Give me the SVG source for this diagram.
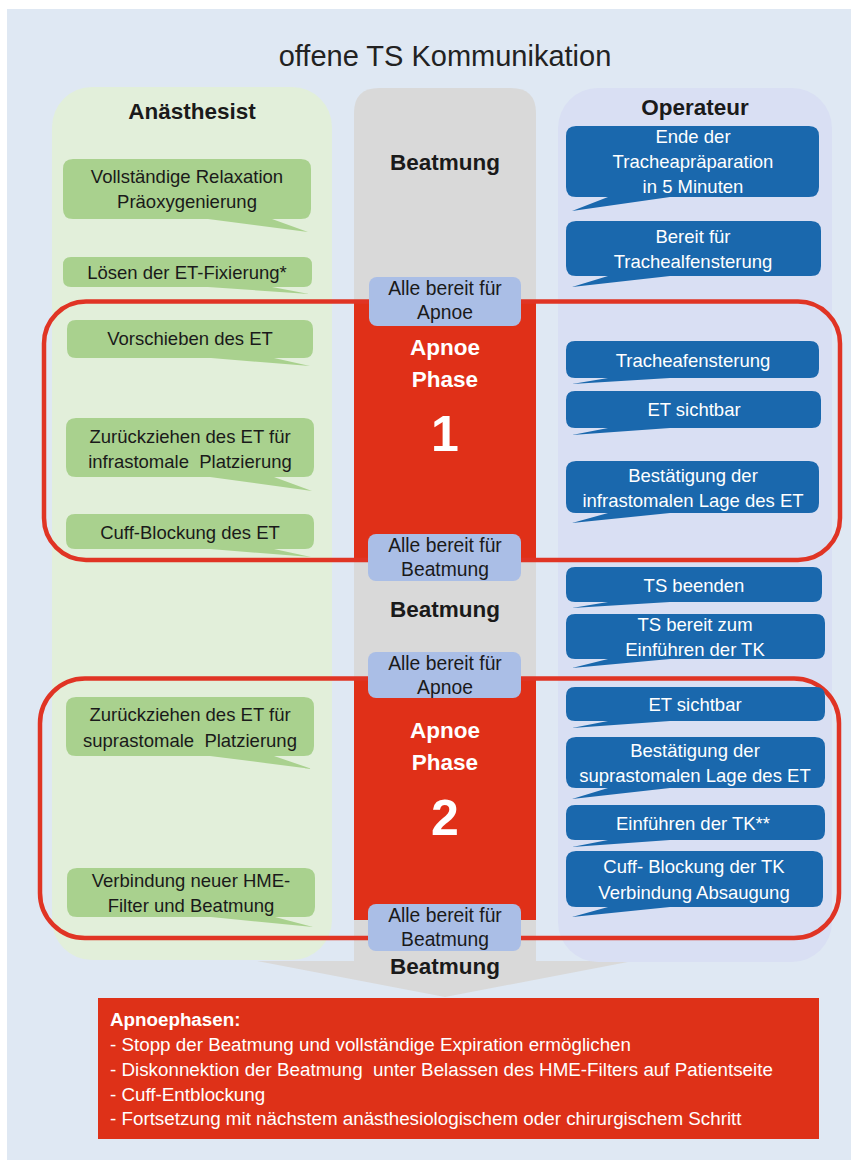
<svg xmlns="http://www.w3.org/2000/svg" width="857" height="1164" viewBox="0 0 857 1164">
<style>
text{font-family:"Liberation Sans",Arial,sans-serif;}
.t{font-size:18.5px;fill:#1a1a1a;text-anchor:middle;}
.ta{font-size:19.3px;fill:#1a1a1a;text-anchor:middle;}
.w{font-size:18.5px;fill:#ffffff;text-anchor:middle;}
.h{font-size:22.5px;font-weight:bold;fill:#1a1a1a;text-anchor:middle;}
.ap{font-size:22.5px;font-weight:bold;fill:#ffffff;text-anchor:middle;}
.num{font-size:50px;font-weight:bold;fill:#ffffff;text-anchor:middle;}
.g{fill:#a9d18e;}
.b{fill:#1a68ad;}
.ab{fill:#aabee6;}
.rl{fill:none;stroke:#e03424;stroke-width:4.5;}
.rf{fill:#e03018;}
.bt{font-size:18.8px;fill:#ffffff;}
</style>
<rect x="7" y="9" width="844" height="1151" fill="#dfe8f3"/>
<text x="445" y="66" style="font-size:29px;fill:#222;text-anchor:middle">offene TS Kommunikation</text>

<g id="col-anaesthesist">
<rect x="52" y="87" width="280" height="873" rx="40" fill="#e2efda"/>
<text class="h" x="192" y="119">Anästhesist</text>
</g>
<g id="connectors">
<polygon points="257,961 633,961 445,997" fill="#d9d9d9"/>
</g>
<g id="col-beatmung">
<path d="M354,962 V113 Q354,88 379,88 H511 Q536,88 536,113 V962 Z" fill="#d9d9d9"/>
<text class="h" x="445" y="170">Beatmung</text>
<text class="h" x="445" y="617">Beatmung</text>
<text class="h" x="445" y="974">Beatmung</text>
</g>
<g id="col-operateur">
<rect x="558" y="88" width="274" height="874" rx="40" fill="#d9dff3"/>
<text class="h" x="695" y="115">Operateur</text>
</g>

<g id="apnoe1">
<rect class="rf" x="354" y="300" width="182" height="261"/>
<text class="ap" x="445" y="355">Apnoe</text>
<text class="ap" x="445" y="387">Phase</text>
<text class="num" x="445" y="451">1</text>
</g>
<g id="apnoe2">
<rect class="rf" x="354" y="677" width="182" height="243"/>
<text class="ap" x="445" y="738">Apnoe</text>
<text class="ap" x="445" y="770">Phase</text>
<text class="num" x="445" y="835">2</text>
</g>
<g id="phase-frames">
<rect class="rl" x="44" y="301.5" width="796" height="258.5" rx="42"/>
<rect class="rl" x="40" y="678.5" width="799" height="259.5" rx="45"/>
</g>

<g id="g1"><path class="g" d="M73,159 H301 Q311,159 311,169 V209 Q311,219 301,219 H272 L308,232 L208,219 H73 Q63,219 63,209 V169 Q63,159 73,159 Z"/>
<text class="t" x="187" y="183">Vollständige Relaxation</text><text class="t" x="187" y="208">Präoxygenierung</text></g>
<g id="g2"><path class="g" d="M71,257 H304 Q312,257 312,265 V279 Q312,287 304,287 H272 L309,294 L208,287 H71 Q63,287 63,279 V265 Q63,257 71,257 Z"/>
<text class="t" x="187" y="279">Lösen der ET-Fixierung*</text></g>
<g id="g3"><path class="g" d="M76,320 H304 Q313,320 313,329 V349 Q313,358 304,358 H274 L310,366 L211,358 H76 Q67,358 67,349 V329 Q67,320 76,320 Z"/>
<text class="t" x="190" y="345">Vorschieben des ET</text></g>
<g id="g4"><path class="g" d="M76,418 H304 Q314,418 314,428 V467 Q314,477 304,477 H274 L312,491 L210,477 H76 Q66,477 66,467 V428 Q66,418 76,418 Z"/>
<text class="t" x="190" y="443">Zurückziehen des ET für</text><text class="t" x="190" y="468" xml:space="preserve">infrastomale  Platzierung</text></g>
<g id="g5"><path class="g" d="M75,514 H305 Q314,514 314,523 V540 Q314,549 305,549 H274 L311,557 L210,549 H75 Q66,549 66,540 V523 Q66,514 75,514 Z"/>
<text class="t" x="190" y="539">Cuff-Blockung des ET</text></g>
<g id="g6"><path class="g" d="M76,697 H304 Q314,697 314,707 V746 Q314,756 304,756 H274 L312,769 L210,756 H76 Q66,756 66,746 V707 Q66,697 76,697 Z"/>
<text class="t" x="190" y="721">Zurückziehen des ET für</text><text class="t" x="190" y="747" xml:space="preserve">suprastomale  Platzierung</text></g>
<g id="g7"><path class="g" d="M77,868 H305 Q315,868 315,878 V907 Q315,917 305,917 H275 L313,927 L211,917 H77 Q67,917 67,907 V878 Q67,868 77,868 Z"/>
<text class="t" x="191" y="887">Verbindung neuer HME-</text><text class="t" x="191" y="912">Filter und Beatmung</text></g>

<g id="b1"><path class="b" d="M576,126 H809 Q819,126 819,136 V187 Q819,197 809,197 H670 L572,211 L608,197 H576 Q566,197 566,187 V136 Q566,126 576,126 Z"/>
<text class="w" x="693" y="143">Ende der</text><text class="w" x="693" y="168">Tracheapräparation</text><text class="w" x="693" y="193">in 5 Minuten</text></g>
<g id="b2"><path class="b" d="M576,221 H811 Q821,221 821,231 V266 Q821,276 811,276 H670 L572,287 L608,276 H576 Q566,276 566,266 V231 Q566,221 576,221 Z"/>
<text class="w" x="693" y="243">Bereit für</text><text class="w" x="693" y="268">Trachealfensterung</text></g>
<g id="b3"><path class="b" d="M575,341 H810 Q819,341 819,350 V369 Q819,378 810,378 H670 L572,384 L608,378 H575 Q566,378 566,369 V350 Q566,341 575,341 Z"/>
<text class="w" x="693" y="367">Tracheafensterung</text></g>
<g id="b4"><path class="b" d="M575,391 H812 Q821,391 821,400 V419 Q821,428 812,428 H670 L572,435 L608,428 H575 Q566,428 566,419 V400 Q566,391 575,391 Z"/>
<text class="w" x="694" y="416">ET sichtbar</text></g>
<g id="b5"><path class="b" d="M576,461 H809 Q819,461 819,471 V503 Q819,513 809,513 H670 L572,523 L608,513 H576 Q566,513 566,503 V471 Q566,461 576,461 Z"/>
<text class="w" x="693" y="482">Bestätigung der</text><text class="w" x="693" y="507">infrastomalen Lage des ET</text></g>
<g id="b6"><path class="b" d="M575,567 H813 Q822,567 822,576 V593 Q822,602 813,602 H670 L572,608 L608,602 H575 Q566,602 566,593 V576 Q566,567 575,567 Z"/>
<text class="w" x="694" y="592">TS beenden</text></g>
<g id="b7"><path class="b" d="M575,614 H816 Q825,614 825,623 V650 Q825,659 816,659 H670 L572,668 L608,659 H575 Q566,659 566,650 V623 Q566,614 575,614 Z"/>
<text class="w" x="695" y="631">TS bereit zum</text><text class="w" x="695" y="656">Einführen der TK</text></g>
<g id="b8"><path class="b" d="M575,687 H816 Q825,687 825,696 V712 Q825,721 816,721 H670 L572,728 L608,721 H575 Q566,721 566,712 V696 Q566,687 575,687 Z"/>
<text class="w" x="695" y="711">ET sichtbar</text></g>
<g id="b9"><path class="b" d="M576,737 H815 Q825,737 825,747 V778 Q825,788 815,788 H670 L572,799 L608,788 H576 Q566,788 566,778 V747 Q566,737 576,737 Z"/>
<text class="w" x="695" y="757">Bestätigung der</text><text class="w" x="695" y="782">suprastomalen Lage des ET</text></g>
<g id="b10"><path class="b" d="M575,805 H816 Q825,805 825,814 V831 Q825,840 816,840 H670 L572,847 L608,840 H575 Q566,840 566,831 V814 Q566,805 575,805 Z"/>
<text class="w" x="693" y="830">Einführen der TK**</text></g>
<g id="b11"><path class="b" d="M576,851 H813 Q823,851 823,861 V897 Q823,907 813,907 H670 L572,917 L608,907 H576 Q566,907 566,897 V861 Q566,851 576,851 Z"/>
<text class="w" x="694" y="873">Cuff- Blockung der TK</text><text class="w" x="694" y="899">Verbindung Absaugung</text></g>

<g id="a1"><rect class="ab" x="369" y="277" width="152" height="49" rx="8"/>
<text class="ta" x="445" y="295">Alle bereit für</text><text class="ta" x="445" y="319">Apnoe</text></g>
<g id="a2"><rect class="ab" x="368" y="534" width="153" height="47" rx="8"/>
<text class="ta" x="445" y="552">Alle bereit für</text><text class="ta" x="445" y="576">Beatmung</text></g>
<g id="a3"><rect class="ab" x="368" y="652" width="153" height="46" rx="8"/>
<text class="ta" x="445" y="670">Alle bereit für</text><text class="ta" x="445" y="694">Apnoe</text></g>
<g id="a4"><rect class="ab" x="368" y="904" width="153" height="47" rx="8"/>
<text class="ta" x="445" y="922">Alle bereit für</text><text class="ta" x="445" y="946">Beatmung</text></g>

<g id="legend">
<rect x="98" y="998" width="721" height="141" fill="#de3118"/>
<text class="bt" x="110" y="1026" font-weight="bold">Apnoephasen:</text>
<text class="bt" x="110" y="1051">- Stopp der Beatmung und vollständige Expiration ermöglichen</text>
<text class="bt" x="110" y="1076" xml:space="preserve">- Diskonnektion der Beatmung  unter Belassen des HME-Filters auf Patientseite</text>
<text class="bt" x="110" y="1101">- Cuff-Entblockung</text>
<text class="bt" x="110" y="1125">- Fortsetzung mit nächstem anästhesiologischem oder chirurgischem Schritt</text>
</g>
</svg>
